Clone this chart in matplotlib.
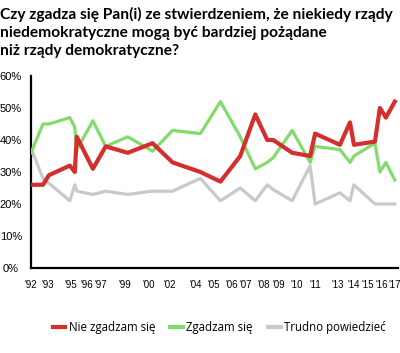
import matplotlib
matplotlib.use('Agg')
import matplotlib.pyplot as plt

# survey dates (decimal years) and shares in %
years = [1992.0, 1992.82, 1993.23, 1994.66, 1995.0, 1995.14, 1996.24, 1997.12,
         1998.63, 2000.33, 2001.70, 2003.61, 2004.98, 2006.34, 2007.37, 2008.19,
         2008.60, 2009.90, 2011.13, 2011.47, 2013.17, 2013.86, 2014.13, 2015.57,
         2015.91, 2016.32, 2016.93]
nie_zgadzam = [26, 26, 29, 32, 30, 41, 31, 38, 36, 39, 33, 30, 27, 35, 48, 40,
               40, 36, 35, 42, 38.5, 45.5, 38.5, 39.5, 50, 47, 52]
zgadzam = [36, 45, 45, 47, 44, 37, 46, 38, 41, 36.5, 43, 42, 52, 41, 31, 33,
           34.5, 43, 33, 38, 37, 33, 35, 39, 30, 33, 27.5]
trudno = [37.5, 28, 26.5, 21, 26, 24, 23, 24, 23, 24, 24, 28, 21, 25, 21, 26,
          24.5, 21, 32, 20, 23.5, 21, 26, 20, 20, 20, 20]

tick_pos = [1992.0, 1993.15, 1994.7, 1995.85, 1996.75, 1998.4, 2000.05, 2001.5,
            2003.3, 2004.55, 2005.75, 2006.75, 2007.95, 2008.95, 2010.2, 2011.5,
            2013.0, 2014.1, 2015.1, 2016.05, 2016.9]
tick_labels = ["'92", "'93", "'95", "'96", "'97", "'99", "'00", "'02", "'04", "'05",
               "'06", "'07", "'08", "'09", "'10", "'11", "'13", "'14", "'15", "'16", "'17"]

title = ("Czy zgadza się Pan(i) ze stwierdzeniem, że niekiedy rządy\n"
         "niedemokratyczne mogą być bardziej pożądane\n"
         "niż rządy demokratyczne?")

fig = plt.figure(figsize=(4.0, 3.53), dpi=100)
ax = fig.add_axes([0.0775, 0.2408, 0.9175, 0.5439])

ax.plot(years, trudno, color='#c9c9c9', lw=2.3, label='Trudno powiedzieć', zorder=2)
ax.plot(years, zgadzam, color='#82dc6c', lw=2.3, label='Zgadzam się', zorder=3)
ax.plot(years, nie_zgadzam, color='#d42f2c', lw=3.0, label='Nie zgadzam się', zorder=4)

ax.set_ylim(0, 60)
ax.set_xlim(1992.0, 2017.15)
ax.set_yticks(range(0, 61, 10))
ax.set_yticklabels([str(v) + '%' for v in range(0, 61, 10)],
                   fontfamily='Liberation Sans', fontsize=8, ha='center')
ax.set_xticks(tick_pos)
ax.set_xticklabels(tick_labels, fontfamily='Liberation Sans', fontsize=7)
ax.tick_params(axis='y', length=0, pad=14.5)
ax.tick_params(axis='x', length=0, pad=9)
for s in ['top', 'right']:
    ax.spines[s].set_visible(False)
ax.spines['left'].set_linewidth(1.6)
ax.spines['bottom'].set_linewidth(1.6)

fig.text(0.0, 0.98, title, ha='left', va='top', fontfamily='Lato',
         fontweight='bold', fontsize=11.2, linespacing=1.38)

h, l = ax.get_legend_handles_labels()
order = [2, 1, 0]
leg = fig.legend([h[i] for i in order], [l[i] for i in order], loc='center',
                 bbox_to_anchor=(0.548, 0.072), ncol=3, frameon=False,
                 prop={'family': 'Open Sans', 'size': 8.3}, handlelength=1.1,
                 handletextpad=0.3, columnspacing=1.3)
for line in leg.get_lines():
    line.set_linewidth(3.0)

fig.savefig('out.png', dpi=100)
